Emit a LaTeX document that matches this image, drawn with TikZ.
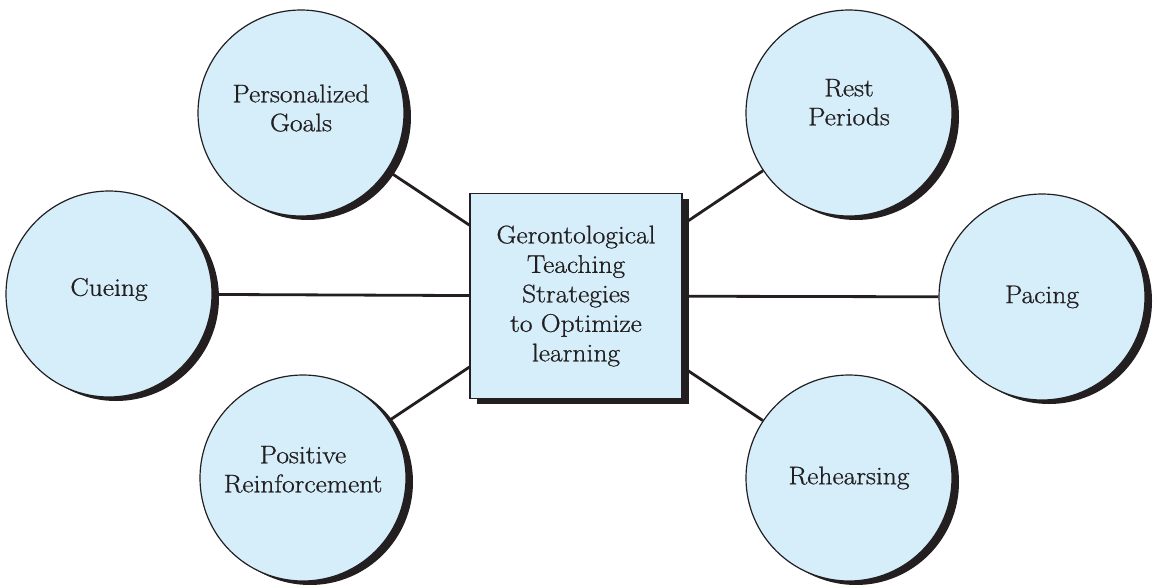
\documentclass[tikz,border=0pt]{standalone}
\usepackage{fontspec}
\newfontfamily\lblfont{Latin Modern Roman}[FakeStretch=1.08, FakeBold=0.8]
\usetikzlibrary{shadows}
\definecolor{bubble}{RGB}{213,238,250}
\definecolor{ink}{RGB}{35,31,32}
\newcommand\lift[2]{\raisebox{#1}[\height][\depth]{\begin{tabular}{@{}c@{}}#2\end{tabular}}}
\begin{document}
\begin{tikzpicture}[x=1pt,y=-1pt,
  bub/.style={circle, draw=ink, line width=1.2pt, fill=bubble, minimum size=206pt,
    inner sep=0pt, align=center, text=ink, font=\lblfont\fontsize{25.5}{29}\selectfont,
    drop shadow={shadow xshift=7pt, shadow yshift=-4pt, fill=ink, opacity=1}},
  hub/.style={rectangle, draw=ink, line width=1.2pt, fill=bubble, minimum width=212pt,
    minimum height=205pt, inner sep=0pt, align=center, text=ink,
    font=\lblfont\fontsize{25.5}{29.5}\selectfont,
    drop shadow={shadow xshift=7pt, shadow yshift=-5pt, fill=ink, opacity=1}},
  link/.style={draw=ink, line width=2.8pt}]
\useasboundingbox (0,0) rectangle (1159,584);
\node[hub] (hub) at (576,296) {Gerontological\\Teaching\\Strategies\\to Optimize\\learning};
\node[bub] (pg) at (301,113) {\lift{2pt}{Personalized\\Goals}};
\node[bub] (cu) at (109,294) {\lift{4pt}{Cueing}};
\node[bub] (pr) at (303,478) {\lift{6pt}{Positive\\Reinforcement}};
\node[bub] (rp) at (849,113) {\lift{8pt}{Rest\\Periods}};
\node[bub] (pa) at (1042,297) {Pacing};
\node[bub] (re) at (849,478) {Rehearsing};
\draw[link] (pg) -- (hub);
\draw[link] (cu) -- (hub);
\draw[link] (pr) -- (hub);
\draw[link] (rp) -- (hub);
\draw[link] (pa) -- (hub);
\draw[link] (re) -- (hub);
\end{tikzpicture}
\end{document}
